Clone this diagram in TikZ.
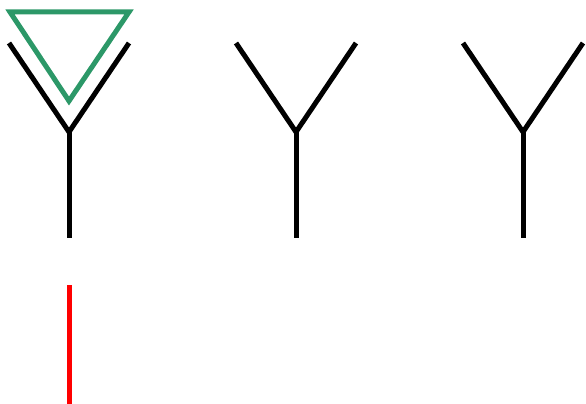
\documentclass[tikz,border=0pt]{standalone}
\usepackage{tikz}
\definecolor{BeamGreen}{RGB}{44,152,104}
\definecolor{FeedRed}{RGB}{255,0,0}

\begin{document}
\begin{tikzpicture}[x=1pt,y=-1pt,line width=5pt]
\tikzset{ant/.style={draw=black},beam/.style={draw=BeamGreen,line join=miter},feed/.style={draw=FeedRed}}
\useasboundingbox (0,0) rectangle (586,404);
\foreach \i/\x in {a/69,b/296,c/523}{
  \coordinate (\i top) at (\x,132);
  \draw[ant] (\x-60,43)--(\i top)--(\x+60,43);
  \draw[ant] (\i top)--(\x,238);
}
\draw[beam] (10,12)--(129,12)--(69,101)--cycle;
\coordinate (fa) at (69,285);
\coordinate (fb) at (69,404);
\draw[feed] (fa)--(fb);
\end{tikzpicture}
\end{document}
